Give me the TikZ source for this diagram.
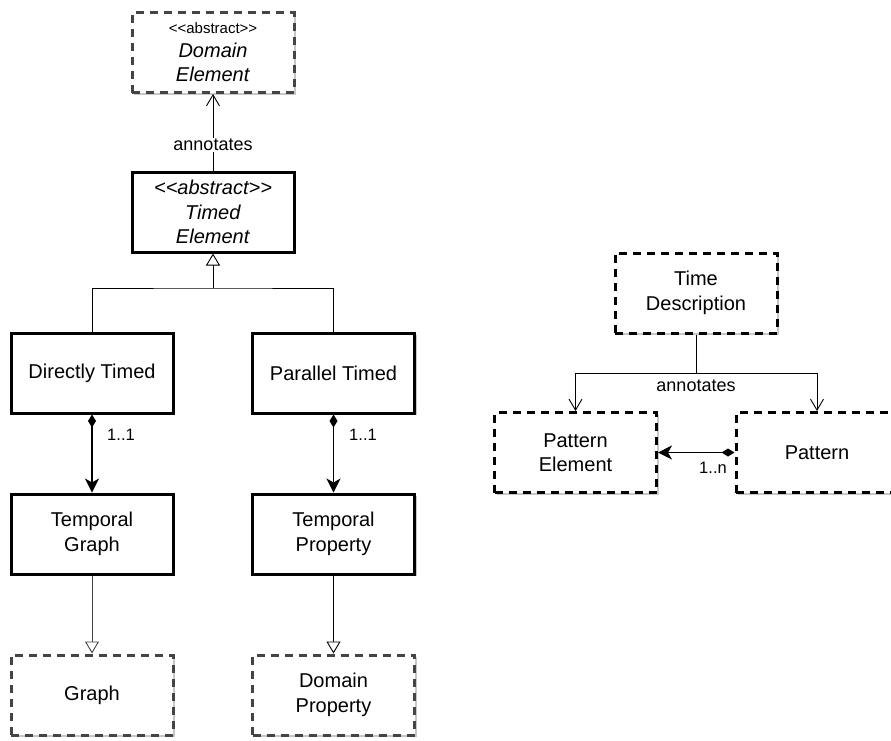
\documentclass[tikz,border=0pt]{standalone}
\usepackage{fontspec}
\setmainfont{Liberation Sans}[Ligatures=TeXOff]
\usetikzlibrary{arrows.meta,shadows}
\definecolor{dashgray}{HTML}{444444}
\tikzset{
  cls/.style={rectangle, minimum width=162pt, minimum height=80pt, align=center,
    fill=white, font=\fontsize{20}{24.5}\selectfont,
    drop shadow={shadow xshift=2pt, shadow yshift=-2pt, fill=black!22, opacity=1}},
  solidcls/.style={cls, draw=black, line width=3pt},
  dashcls/.style={cls, draw=dashgray, line width=3pt, dash pattern=on 8pt off 6pt},
  blackdash/.style={cls, draw=black, line width=3pt, dash pattern=on 8pt off 6pt},
  assoc/.style={draw=black, line width=0.9pt, -{Straight Barb[length=11pt,width=13pt,line width=0.9pt]}},
  gen/.style={draw=black, line width=0.9pt, -{Triangle[open,length=12pt,width=14pt,line width=0.9pt,fill=white]}},
  comp/.style={draw=black, line width=1.4pt,
    {Diamond[length=13pt,width=8pt]}-{Stealth[length=14pt,width=14pt,inset=4pt]}},
  lbl/.style={font=\fontsize{18}{20}\selectfont, inner sep=1pt},
  mult/.style={font=\fontsize{16.5}{18}\selectfont, inner sep=1pt}
}
\begin{document}
\begin{tikzpicture}[x=1pt,y=-1pt]
\useasboundingbox (0,0) rectangle (891,740);

% classes of the timing hierarchy
\node[dashcls]  (dom)   at (213,52.5) {{\fontsize{15}{17}\selectfont <<abstract>>}\\[-1pt]\textit{Domain}\\\textit{Element}};
\node[solidcls] (timed) at (213,212)  {\textit{<<abstract>>}\\\textit{Timed}\\\textit{Element}};
\node[solidcls] (direct) at (92,373)  {Directly Timed};
\node[solidcls] (par)   at (333.5,373) {Parallel Timed};
\node[solidcls] (tg)    at (92,534)   {Temporal\\Graph};
\node[solidcls] (tp)    at (333.5,534) {Temporal\\Property};
\node[dashcls]  (graph) at (92,695)   {Graph};
\node[dashcls]  (dprop) at (333.5,695) {Domain\\Property};

% pattern side
\node[blackdash] (tdesc) at (696,293)  {Time\\Description};
\node[blackdash] (pelem) at (575.5,452.5) {Pattern\\Element};
\node[blackdash] (pat)   at (817,452.5) {Pattern};

% annotates (timed element -> domain element)
\draw[assoc] (timed.north) -- node[lbl, fill=white, pos=0.33] {annotates} (dom.south);

% generalisation tree
\coordinate (gj) at (213,288);
\draw[line width=0.9pt] (direct.north) |- (gj) -| (par.north);
\draw[gen] (gj) -- (timed.south);

% compositions
\draw[comp] (direct.south) -- (tg.north);
\node[mult] (m1) at (121,435) {1..1};
\draw[comp] (par.south) -- (tp.north);
\node[mult] (m2) at (363,435) {1..1};

% realisations
\draw[gen, draw=black!75] (tg.south) -- (graph.north);
\draw[gen] (tp.south) -- (dprop.north);

% time description annotates patterns
\coordinate (tj) at (696,373);
\coordinate (tl) at (pelem.north |- tj);
\coordinate (tr) at (pat.north |- tj);
\draw[line width=0.9pt] (tdesc.south) -- (tj);
\draw[line width=0.9pt] (tl) -- (tr);
\draw[assoc] (tl) -- (pelem.north);
\draw[assoc] (tr) -- (pat.north);
\node[lbl] (ann2) at (696,386) {annotates};

\draw[comp] (pat.west) -- (pelem.east);
\node[mult] (m3) at (713,468) {1..n};
\end{tikzpicture}
\end{document}
